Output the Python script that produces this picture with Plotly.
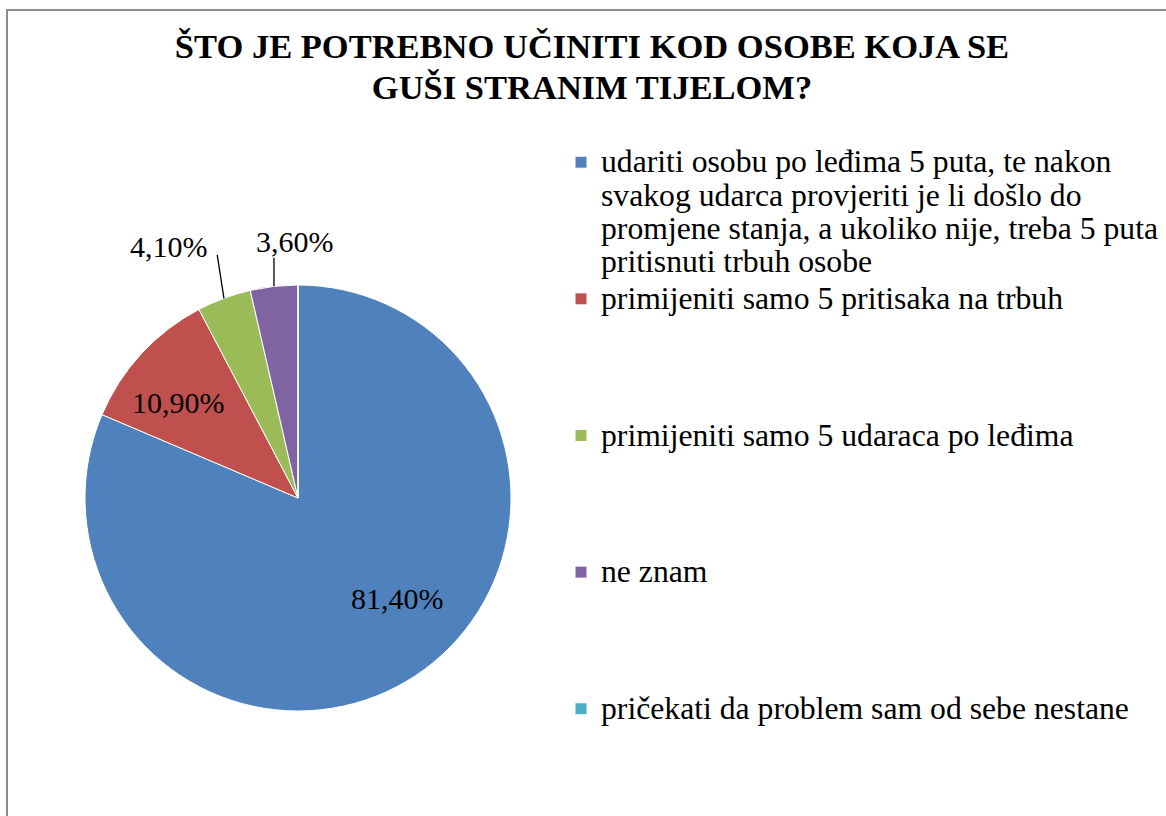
import math
import plotly.graph_objects as go

labels = [
    "udariti osobu po leđima 5 puta, te nakon<br>svakog udarca provjeriti je li došlo do<br>"
    "promjene stanja, a ukoliko nije, treba 5 puta<br>pritisnuti trbuh osobe",
    "primijeniti samo 5 pritisaka na trbuh",
    "primijeniti samo 5 udaraca po leđima",
    "ne znam",
    "pričekati da problem sam od sebe nestane",
]
values = [81.4, 10.9, 4.1, 3.6, 0.0]
colors = ["#4F81BD", "#C0504D", "#9BBB59", "#8064A2", "#4BACC6"]

W, H = 1166, 816
CX, CY, R = 298, 498, 213  # pie centre / radius in px
FONT = "Liberation Serif"

# legend entries padded to 4 lines (except the last) so spacing matches the original
legend_labels = []
for k, lab in enumerate(labels):
    n = lab.count("<br>")
    txt = lab if k == len(labels) - 1 else lab + "<br>&nbsp;" * (3 - n)
    legend_labels.append(f"<span style='font-size:31.7px'>{txt}</span>")

fig = go.Figure()
fig.add_trace(go.Pie(
    labels=legend_labels,
    values=values,
    sort=False,
    direction="clockwise",
    rotation=0,
    marker=dict(colors=colors, line=dict(color="white", width=1)),
    textinfo="none",
    hoverinfo="label+value",
    domain=dict(x=[(CX - R) / W, (CX + R) / W], y=[(H - CY - R) / H, (H - CY + R) / H]),
))

# data labels: (line dx, line dy, text shift x, text shift y) from slice edge midpoint
label_pos = {0: (None, None, -18, 77), 1: (None, None, 37, -49),
             2: (-7, -45, -55, 52), 3: (0, -30, 21, 45)}
total = sum(values)
cum = 0
for i, v in enumerate(values):
    mid = 2 * math.pi * (cum + v / 2) / total
    cum += v
    if i not in label_pos:
        continue
    ex = (CX + R * math.sin(mid)) / W
    ey = (H - CY + R * math.cos(mid)) / H
    ax, ay, xs, ys = label_pos[i]
    if ax is not None:
        fig.add_annotation(x=ex, y=ey, xref="paper", yref="paper", text="",
                           showarrow=True, arrowhead=0, arrowwidth=1.3, arrowcolor="black",
                           ax=ax, ay=ay)
    fig.add_annotation(x=ex, y=ey, xref="paper", yref="paper",
                       xanchor="center", yanchor="middle",
                       text=f"{v:.2f}".replace(".", ",") + "%", showarrow=False,
                       xshift=xs, yshift=ys, font=dict(family=FONT, size=30, color="black"))

fig.add_shape(type="rect", xref="paper", yref="paper",
              x0=7 / W, x1=1.02, y0=-0.02, y1=1 - 10 / H,
              line=dict(color="#8c8c8c", width=2))

fig.update_layout(
    width=W, height=H,
    margin=dict(l=0, r=0, t=0, b=0, autoexpand=False),
    paper_bgcolor="white",
    font=dict(family=FONT, color="black"),
    title=dict(
        text="<span style='font-size:34.5px'><b>ŠTO JE POTREBNO UČINITI KOD OSOBE KOJA SE<br>"
             "GUŠI STRANIM TIJELOM?</b></span>",
        x=592 / W, xanchor="center", y=1 - 58 / H, yanchor="top",
        font=dict(family=FONT, size=31.5, color="black"),
    ),
    legend=dict(
        x=561 / W, xanchor="left", y=1 - 139 / H, yanchor="top",
        valign="top",
        font=dict(family=FONT, size=25.7, color="black"),
        bgcolor="rgba(0,0,0,0)",
    ),
    showlegend=True,
)

fig.write_html("out.html", config={"displayModeBar": False},
               post_script="document.body.style.margin='0';")
